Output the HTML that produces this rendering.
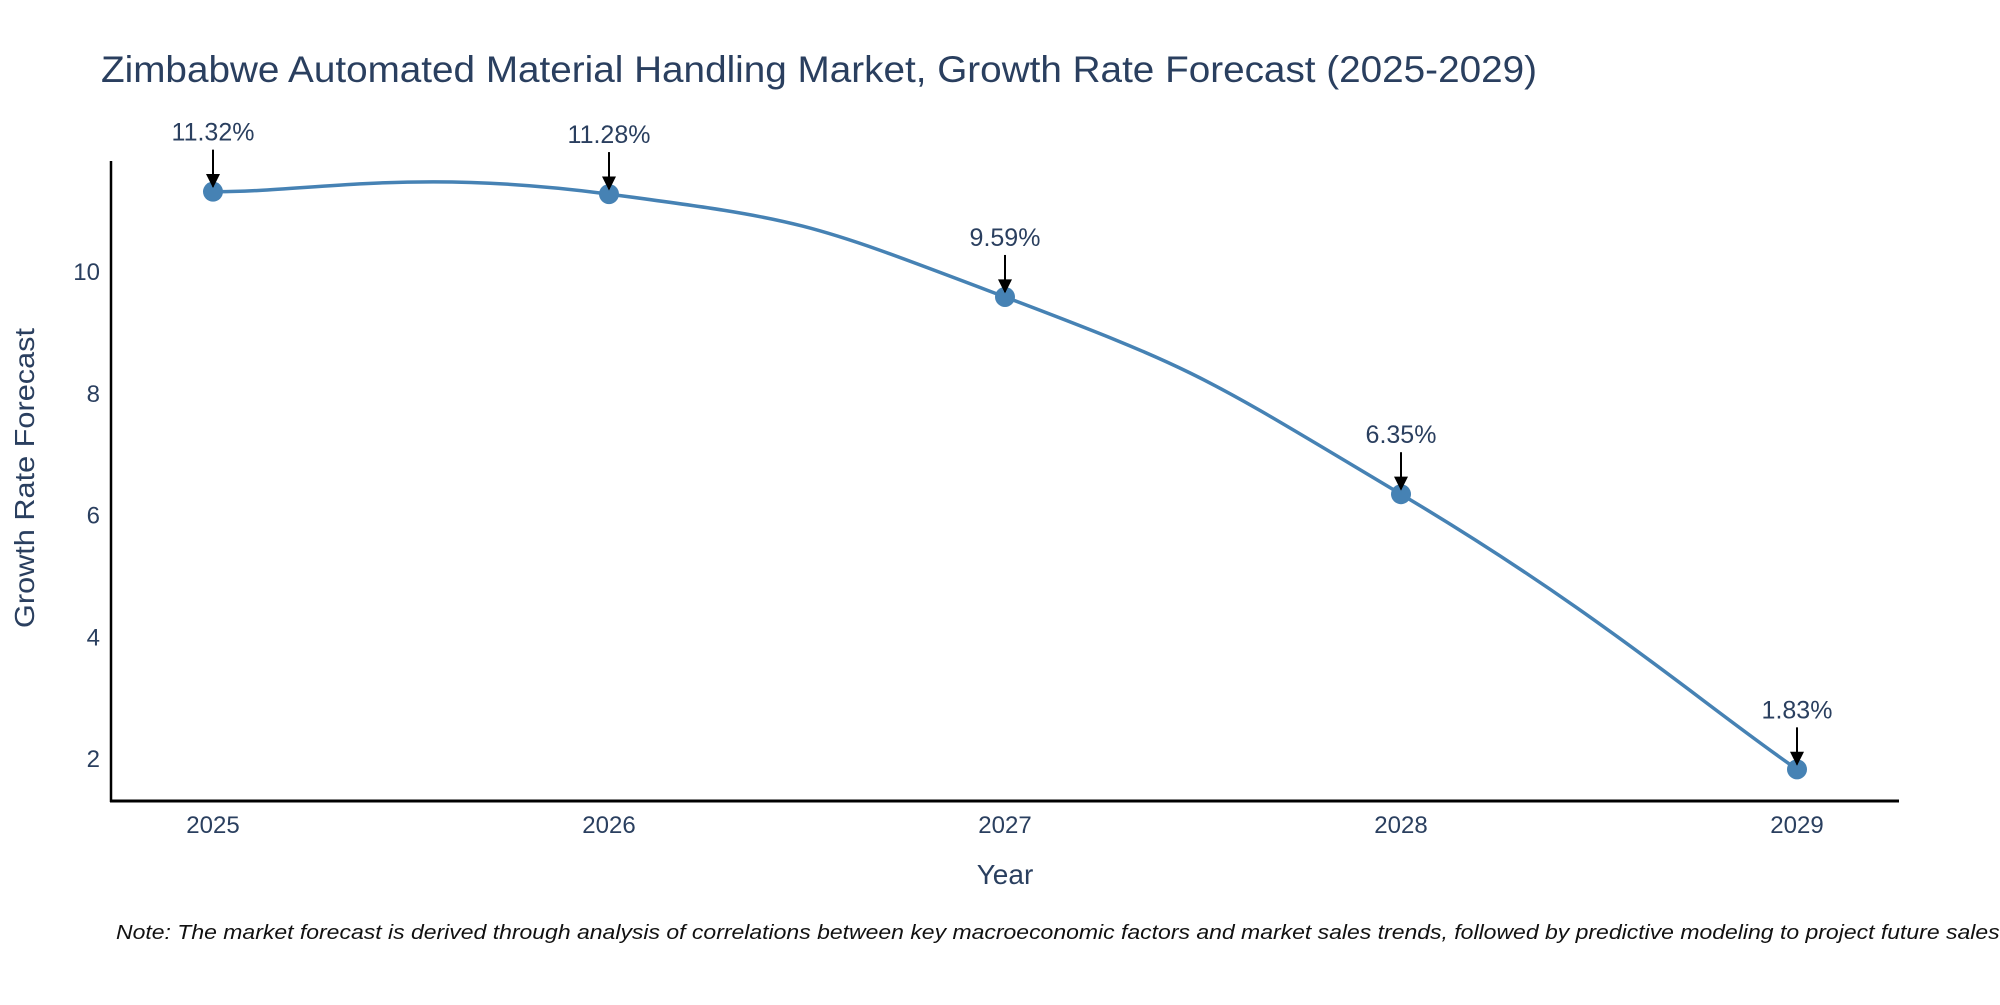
<!DOCTYPE html>
<html><head><meta charset="utf-8"><style>
body{margin:0;background:#fff;width:2000px;height:1000px;overflow:hidden}
svg text{font-family:"Liberation Sans",sans-serif;fill:#2a3f5f}
</style></head><body>
<svg id="chart" width="2000" height="1000">
<defs><marker id="ah" viewBox="0 0 10 10" refX="9" refY="5" markerWidth="7" markerHeight="7" markerUnits="userSpaceOnUse" orient="auto"><path d="M0,0L10,5L0,10z" fill="#000"/></marker>
<marker id="ah2" viewBox="0 0 10 10" refX="9" refY="5" markerWidth="16" markerHeight="14" markerUnits="userSpaceOnUse" orient="auto"><path d="M0,0L10,5L0,10z" fill="#000"/></marker></defs>
<text x="101" y="82" font-size="37" textLength="1436" lengthAdjust="spacingAndGlyphs">Zimbabwe Automated Material Handling Market, Growth Rate Forecast (2025-2029)</text>
<g id="yticks"></g><g id="xticks"></g>
<line x1="111" y1="161" x2="111" y2="802" stroke="#000" stroke-width="2.5"/>
<line x1="110" y1="801" x2="1899" y2="801" stroke="#000" stroke-width="3"/>
<path id="line" fill="none" stroke="#4682b4" stroke-width="3.5"/>
<g id="points"></g><g id="annots"></g>
<text x="1005" y="884" font-size="28" text-anchor="middle">Year</text>
<text transform="translate(34,478) rotate(-90)" font-size="28" text-anchor="middle" textLength="300" lengthAdjust="spacingAndGlyphs">Growth Rate Forecast</text>
<text x="116" y="939" font-size="20" font-style="italic" textLength="1890" lengthAdjust="spacingAndGlyphs" style="fill:#111">Note: The market forecast is derived through analysis of correlations between key macroeconomic factors and market sales trends, followed by predictive modeling to project future sales.</text>
</svg>
<script>
const years=["2025","2026","2027","2028","2029"];
const values=[11.32,11.28,9.59,6.35,1.83];
const labels=["11.32%","11.28%","9.59%","6.35%","1.83%"];
const yTicks=[2,4,6,8,10];
const NS="http://www.w3.org/2000/svg";
const xs=i=>213+i*396;
const ys=v=>759-(v-2)*60.875;
function mk(t,a,p){const e=document.createElementNS(NS,t);for(const k in a)e.setAttribute(k,a[k]);p.appendChild(e);return e;}
const yg=document.getElementById('yticks');
yTicks.forEach(v=>{const t=mk('text',{x:100,y:ys(v)+8,'font-size':24,'text-anchor':'end'},yg);t.textContent=v;

});
const xg=document.getElementById('xticks');
years.forEach((y,i)=>{const t=mk('text',{x:xs(i),y:833,'font-size':24,'text-anchor':'middle'},xg);t.textContent=y;

});
const P=values.map((v,i)=>[xs(i),ys(v)]);
let d=`M${P[0][0]},${P[0][1]}`;const k=0.25;
for(let i=0;i<P.length-1;i++){const p0=P[Math.max(0,i-1)],p1=P[i],p2=P[i+1],p3=P[Math.min(P.length-1,i+2)];
const c1=[p1[0]+(p2[0]-p0[0])*k,p1[1]+(p2[1]-p0[1])*k],c2=[p2[0]-(p3[0]-p1[0])*k,p2[1]-(p3[1]-p1[1])*k];
d+=`C${c1[0]},${c1[1]} ${c2[0]},${c2[1]} ${p2[0]},${p2[1]}`;}
document.getElementById('line').setAttribute('d',d);
const pg=document.getElementById('points'),ag=document.getElementById('annots');
P.forEach((p,i)=>{const c=mk('circle',{cx:p[0],cy:p[1],r:10,fill:'#4682b4'},pg);


const l=mk('line',{x1:p[0],y1:p[1]-42,x2:p[0],y2:p[1]-5,stroke:'#000','stroke-width':2,'marker-end':'url(#ah2)'},ag);


const t=mk('text',{x:p[0],y:p[1]-51,'font-size':25,'text-anchor':'middle'},ag);t.textContent=labels[i];

});
</script>
</body></html>
